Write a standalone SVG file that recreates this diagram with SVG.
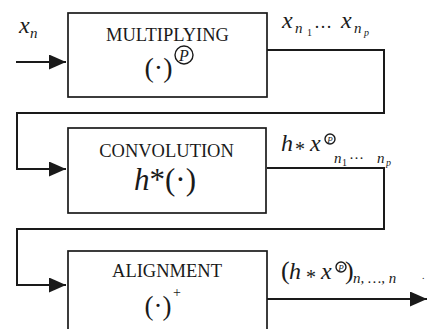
<svg xmlns="http://www.w3.org/2000/svg" width="428" height="329" viewBox="0 0 428 329">
<defs>
<style>
.box{fill:#fff;stroke:#1a1a1a;stroke-width:1.7}
.ln{fill:none;stroke:#1a1a1a;stroke-width:2}
text{font-family:'Liberation Serif',serif;fill:#1a1a1a}
.i{font-style:italic}
.cap{font-size:18.5px;text-anchor:middle}
.circ{fill:none;stroke:#1a1a1a;stroke-width:1.4}
</style>
<marker id="ah" markerWidth="17" markerHeight="15" refX="17" refY="7.5" orient="auto" markerUnits="userSpaceOnUse">
<path d="M0,0 L17,7.5 L0,15 Z" fill="#1a1a1a"/>
</marker>
</defs>
<rect width="428" height="329" fill="#fff"/>

<g id="connectors">
<line class="ln" x1="16" y1="62" x2="66" y2="62" marker-end="url(#ah)"/>
<polyline class="ln" points="267,50 384,50 384,113 17,113 17,169 66,169" marker-end="url(#ah)"/>
<polyline class="ln" points="267,168 384,168 384,229 17,229 17,285 66,285" marker-end="url(#ah)"/>
<line class="ln" x1="267" y1="299" x2="427" y2="299" marker-end="url(#ah)"/>
</g>

<g id="multiplying">
<rect class="box" x="68" y="13" width="199" height="84"/>
<text class="cap" x="167.5" y="41">MULTIPLYING</text>
<text x="158.5" y="77" font-size="28" text-anchor="middle">(·)</text>
<circle class="circ" cx="184" cy="55" r="9"/>
<text class="i" x="184" y="60.5" font-size="16" text-anchor="middle">P</text>
</g>

<g id="convolution">
<rect class="box" x="68" y="128" width="198" height="85"/>
<text class="cap" x="166.5" y="157">CONVOLUTION</text>
<text x="165" y="190" font-size="31" text-anchor="middle"><tspan class="i">h</tspan>*(·)</text>
</g>

<g id="alignment">
<rect class="box" x="68" y="251" width="199" height="100"/>
<text class="cap" x="167" y="277">ALIGNMENT</text>
<text x="158" y="315" font-size="27" text-anchor="middle">(·)</text>
<text x="177" y="297" font-size="14" text-anchor="middle">+</text>
</g>

<g id="labels">
<text class="i" x="19" y="33" font-size="24">x</text>
<text class="i" x="30" y="38" font-size="15">n</text>

<text class="i" x="282" y="28" font-size="24">x</text>
<text class="i" x="295" y="33" font-size="15">n</text>
<text x="307" y="36" font-size="10">1</text>
<text x="314" y="28" font-size="18">…</text>
<text class="i" x="341" y="28" font-size="24">x</text>
<text class="i" x="354" y="33" font-size="15">n</text>
<text class="i" x="364" y="36" font-size="10">p</text>

<text class="i" x="281" y="151" font-size="24">h</text>
<text x="295" y="156" font-size="20">*</text>
<text class="i" x="310" y="151" font-size="24">x</text>
<circle class="circ" cx="330" cy="139" r="5" stroke-width="1"/>
<text class="i" x="330" y="142.5" font-size="9" text-anchor="middle">P</text>
<text class="i" x="334" y="163" font-size="15">n</text>
<text x="342" y="166" font-size="10">1</text>
<text x="349" y="163" font-size="15">···</text>
<text class="i" x="377" y="163" font-size="15">n</text>
<text class="i" x="386" y="166" font-size="10">p</text>

<text x="281" y="279" font-size="26">(</text>
<text class="i" x="289" y="279" font-size="24">h</text>
<text x="306" y="284" font-size="20">*</text>
<text class="i" x="321" y="279" font-size="24">x</text>
<circle class="circ" cx="341" cy="267" r="5" stroke-width="1"/>
<text class="i" x="341" y="270.5" font-size="9" text-anchor="middle">P</text>
<text x="345" y="279" font-size="26">)</text>
<text class="i" x="353" y="283" font-size="15">n, …, n</text>
<text x="422" y="279" font-size="10">.</text>
</g>
</svg>
